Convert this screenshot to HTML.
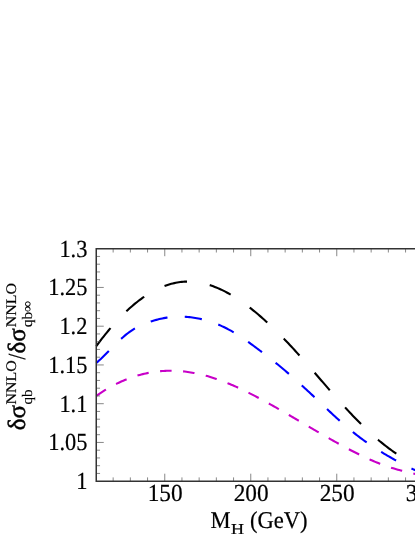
<!DOCTYPE html>
<html><head><meta charset="utf-8"><title>plot</title>
<style>
html,body{margin:0;padding:0;background:#fff;}
body{width:415px;height:537px;overflow:hidden;position:relative;}
svg{position:absolute;left:0;top:0;display:block;will-change:transform;}
text{font-family:"Liberation Serif",serif;fill:#000;stroke:#000;stroke-width:0.2px;text-rendering:geometricPrecision;}
</style></head><body>
<svg width="415" height="537" viewBox="0 0 415 537">
<rect width="415" height="537" fill="#fff"/>
<g fill="none" stroke-width="2.1" stroke-linecap="butt">
<path stroke="#000" stroke-dasharray="23.05 23.05" d="M96.30,346.18 L97.80,344.14 L99.30,342.13 L100.80,340.15 L102.30,338.20 L103.80,336.29 L105.30,334.40 L106.80,332.55 L108.30,330.73 L109.80,328.94 L111.30,327.18 L112.80,325.45 L114.30,323.76 L115.80,322.09 L117.30,320.46 L118.80,318.86 L120.30,317.30 L121.80,315.76 L123.30,314.26 L124.80,312.79 L126.30,311.35 L127.80,309.95 L129.30,308.58 L130.80,307.24 L132.30,305.93 L133.80,304.66 L135.30,303.42 L136.80,302.22 L138.30,301.04 L139.80,299.90 L141.30,298.80 L142.80,297.72 L144.30,296.69 L145.80,295.68 L147.30,294.71 L148.80,293.77 L150.30,292.87 L151.80,292.00 L153.30,291.16 L154.80,290.36 L156.30,289.60 L157.80,288.86 L159.30,288.17 L160.80,287.50 L162.30,286.87 L163.80,286.28 L165.30,285.72 L166.80,285.20 L168.30,284.71 L169.80,284.26 L171.30,283.84 L172.80,283.45 L174.30,283.11 L175.80,282.79 L177.30,282.52 L178.80,282.28 L180.30,282.07 L181.80,281.90 L183.30,281.77 L184.80,281.67 L186.30,281.61 L187.80,281.58 L189.30,281.60 L190.80,281.64 L192.30,281.72 L193.80,281.84 L195.30,281.99 L196.80,282.17 L198.30,282.39 L199.80,282.64 L201.30,282.93 L202.80,283.25 L204.30,283.60 L205.80,283.98 L207.30,284.39 L208.80,284.84 L210.30,285.31 L211.80,285.82 L213.30,286.35 L214.80,286.92 L216.30,287.51 L217.80,288.13 L219.30,288.79 L220.80,289.47 L222.30,290.17 L223.80,290.91 L225.30,291.67 L226.80,292.46 L228.30,293.28 L229.80,294.12 L231.30,294.99 L232.80,295.88 L234.30,296.80 L235.80,297.74 L237.30,298.71 L238.80,299.70 L240.30,300.71 L241.80,301.75 L243.30,302.81 L244.80,303.89 L246.30,304.99 L247.80,306.12 L249.30,307.27 L250.80,308.43 L252.30,309.62 L253.80,310.83 L255.30,312.06 L256.80,313.31 L258.30,314.57 L259.80,315.86 L261.30,317.16 L262.80,318.48 L264.30,319.81 L265.80,321.17 L267.30,322.54 L268.80,323.92 L270.30,325.32 L271.80,326.74 L273.30,328.17 L274.80,329.61 L276.30,331.08 L277.80,332.55 L279.30,334.05 L280.80,335.56 L282.30,337.08 L283.80,338.62 L285.30,340.17 L286.80,341.74 L288.30,343.33 L289.80,344.93 L291.30,346.54 L292.80,348.16 L294.30,349.79 L295.80,351.44 L297.30,353.10 L298.80,354.76 L300.30,356.43 L301.80,358.12 L303.30,359.81 L304.80,361.50 L306.30,363.21 L307.80,364.92 L309.30,366.63 L310.80,368.35 L312.30,370.07 L313.80,371.80 L315.30,373.53 L316.80,375.26 L318.30,376.99 L319.80,378.72 L321.30,380.45 L322.80,382.18 L324.30,383.91 L325.80,385.64 L327.30,387.37 L328.80,389.09 L330.30,390.81 L331.80,392.52 L333.30,394.23 L334.80,395.93 L336.30,397.63 L337.80,399.31 L339.30,401.00 L340.80,402.67 L342.30,404.33 L343.80,405.98 L345.30,407.63 L346.80,409.26 L348.30,410.88 L349.80,412.49 L351.30,414.08 L352.80,415.66 L354.30,417.23 L355.80,418.78 L357.30,420.31 L358.80,421.83 L360.30,423.34 L361.80,424.82 L363.30,426.29 L364.80,427.74 L366.30,429.17 L367.80,430.58 L369.30,431.98 L370.80,433.35 L372.30,434.71 L373.80,436.04 L375.30,437.36 L376.80,438.66 L378.30,439.93 L379.80,441.19 L381.30,442.43 L382.80,443.64 L384.30,444.83 L385.80,446.01 L387.30,447.16 L388.80,448.29 L390.30,449.40 L391.80,450.49 L393.30,451.55 L394.80,452.59 L396.30,453.61 L397.80,454.61 L399.30,455.58 L400.80,456.54 L402.30,457.47 L403.80,458.38 L405.30,459.27 L406.80,460.14 L408.30,460.99 L409.80,461.82 L411.30,462.64 L412.80,463.43 L414.30,464.21 L415.80,464.97 L417.30,465.72 L418.80,466.45 L420.30,467.16 L421.80,467.86 L423.30,468.54 L424.80,469.21 L426.30,469.86 L427.80,470.51 L429.30,471.14"/>
<path stroke="#0000ff" stroke-dasharray="17.29 17.29" d="M96.30,362.91 L97.80,361.65 L99.30,360.32 L100.80,358.95 L102.30,357.54 L103.80,356.09 L105.30,354.60 L106.80,353.10 L108.30,351.58 L109.80,350.04 L111.30,348.51 L112.80,346.98 L114.30,345.46 L115.80,343.95 L117.30,342.47 L118.80,341.02 L120.30,339.61 L121.80,338.24 L123.30,336.92 L124.80,335.64 L126.30,334.42 L127.80,333.25 L129.30,332.13 L130.80,331.07 L132.30,330.06 L133.80,329.11 L135.30,328.21 L136.80,327.37 L138.30,326.58 L139.80,325.84 L141.30,325.14 L142.80,324.48 L144.30,323.86 L145.80,323.27 L147.30,322.71 L148.80,322.18 L150.30,321.68 L151.80,321.19 L153.30,320.73 L154.80,320.29 L156.30,319.87 L157.80,319.47 L159.30,319.10 L160.80,318.75 L162.30,318.42 L163.80,318.13 L165.30,317.86 L166.80,317.61 L168.30,317.40 L169.80,317.21 L171.30,317.05 L172.80,316.92 L174.30,316.81 L175.80,316.73 L177.30,316.67 L178.80,316.64 L180.30,316.64 L181.80,316.66 L183.30,316.70 L184.80,316.77 L186.30,316.87 L187.80,316.98 L189.30,317.12 L190.80,317.28 L192.30,317.47 L193.80,317.68 L195.30,317.92 L196.80,318.18 L198.30,318.46 L199.80,318.77 L201.30,319.10 L202.80,319.46 L204.30,319.84 L205.80,320.24 L207.30,320.67 L208.80,321.13 L210.30,321.60 L211.80,322.11 L213.30,322.64 L214.80,323.19 L216.30,323.77 L217.80,324.37 L219.30,325.00 L220.80,325.66 L222.30,326.34 L223.80,327.04 L225.30,327.77 L226.80,328.53 L228.30,329.31 L229.80,330.12 L231.30,330.95 L232.80,331.81 L234.30,332.69 L235.80,333.60 L237.30,334.53 L238.80,335.49 L240.30,336.47 L241.80,337.46 L243.30,338.48 L244.80,339.51 L246.30,340.56 L247.80,341.62 L249.30,342.70 L250.80,343.79 L252.30,344.89 L253.80,346.00 L255.30,347.12 L256.80,348.24 L258.30,349.37 L259.80,350.51 L261.30,351.65 L262.80,352.79 L264.30,353.93 L265.80,355.08 L267.30,356.23 L268.80,357.39 L270.30,358.55 L271.80,359.73 L273.30,360.91 L274.80,362.10 L276.30,363.31 L277.80,364.53 L279.30,365.76 L280.80,367.00 L282.30,368.25 L283.80,369.52 L285.30,370.79 L286.80,372.08 L288.30,373.37 L289.80,374.68 L291.30,375.99 L292.80,377.31 L294.30,378.64 L295.80,379.98 L297.30,381.33 L298.80,382.68 L300.30,384.04 L301.80,385.41 L303.30,386.78 L304.80,388.16 L306.30,389.55 L307.80,390.94 L309.30,392.34 L310.80,393.74 L312.30,395.14 L313.80,396.55 L315.30,397.97 L316.80,399.38 L318.30,400.80 L319.80,402.22 L321.30,403.64 L322.80,405.06 L324.30,406.48 L325.80,407.90 L327.30,409.31 L328.80,410.72 L330.30,412.12 L331.80,413.52 L333.30,414.91 L334.80,416.29 L336.30,417.66 L337.80,419.03 L339.30,420.38 L340.80,421.73 L342.30,423.06 L343.80,424.38 L345.30,425.68 L346.80,426.97 L348.30,428.24 L349.80,429.50 L351.30,430.74 L352.80,431.96 L354.30,433.17 L355.80,434.35 L357.30,435.51 L358.80,436.66 L360.30,437.79 L361.80,438.90 L363.30,440.00 L364.80,441.07 L366.30,442.14 L367.80,443.18 L369.30,444.21 L370.80,445.23 L372.30,446.23 L373.80,447.22 L375.30,448.19 L376.80,449.15 L378.30,450.10 L379.80,451.04 L381.30,451.96 L382.80,452.87 L384.30,453.78 L385.80,454.67 L387.30,455.55 L388.80,456.42 L390.30,457.28 L391.80,458.13 L393.30,458.98 L394.80,459.81 L396.30,460.64 L397.80,461.46 L399.30,462.27 L400.80,463.08 L402.30,463.87 L403.80,464.65 L405.30,465.42 L406.80,466.18 L408.30,466.93 L409.80,467.66 L411.30,468.38 L412.80,469.09 L414.30,469.79 L415.80,470.46 L417.30,471.13 L418.80,471.77 L420.30,472.40 L421.80,473.01 L423.30,473.61 L424.80,474.18 L426.30,474.74 L427.80,475.27 L429.30,475.79"/>
<path stroke="#c800c8" stroke-dasharray="11.525 11.525" d="M96.30,395.82 L97.80,394.79 L99.30,393.78 L100.80,392.79 L102.30,391.82 L103.80,390.88 L105.30,389.96 L106.80,389.06 L108.30,388.19 L109.80,387.33 L111.30,386.50 L112.80,385.70 L114.30,384.91 L115.80,384.15 L117.30,383.41 L118.80,382.69 L120.30,381.99 L121.80,381.32 L123.30,380.67 L124.80,380.04 L126.30,379.43 L127.80,378.84 L129.30,378.27 L130.80,377.73 L132.30,377.20 L133.80,376.70 L135.30,376.22 L136.80,375.76 L138.30,375.32 L139.80,374.90 L141.30,374.50 L142.80,374.12 L144.30,373.76 L145.80,373.43 L147.30,373.11 L148.80,372.81 L150.30,372.54 L151.80,372.28 L153.30,372.05 L154.80,371.83 L156.30,371.64 L157.80,371.46 L159.30,371.30 L160.80,371.17 L162.30,371.05 L163.80,370.95 L165.30,370.87 L166.80,370.82 L168.30,370.78 L169.80,370.75 L171.30,370.75 L172.80,370.77 L174.30,370.81 L175.80,370.86 L177.30,370.93 L178.80,371.03 L180.30,371.14 L181.80,371.27 L183.30,371.41 L184.80,371.58 L186.30,371.76 L187.80,371.96 L189.30,372.18 L190.80,372.42 L192.30,372.67 L193.80,372.94 L195.30,373.23 L196.80,373.54 L198.30,373.86 L199.80,374.19 L201.30,374.55 L202.80,374.92 L204.30,375.30 L205.80,375.70 L207.30,376.11 L208.80,376.54 L210.30,376.99 L211.80,377.45 L213.30,377.92 L214.80,378.41 L216.30,378.91 L217.80,379.43 L219.30,379.96 L220.80,380.50 L222.30,381.06 L223.80,381.63 L225.30,382.21 L226.80,382.81 L228.30,383.42 L229.80,384.04 L231.30,384.67 L232.80,385.31 L234.30,385.97 L235.80,386.63 L237.30,387.31 L238.80,388.00 L240.30,388.69 L241.80,389.40 L243.30,390.12 L244.80,390.84 L246.30,391.58 L247.80,392.32 L249.30,393.07 L250.80,393.83 L252.30,394.60 L253.80,395.38 L255.30,396.16 L256.80,396.95 L258.30,397.74 L259.80,398.54 L261.30,399.35 L262.80,400.16 L264.30,400.98 L265.80,401.81 L267.30,402.64 L268.80,403.47 L270.30,404.31 L271.80,405.15 L273.30,405.99 L274.80,406.84 L276.30,407.69 L277.80,408.55 L279.30,409.41 L280.80,410.27 L282.30,411.13 L283.80,412.00 L285.30,412.87 L286.80,413.74 L288.30,414.61 L289.80,415.49 L291.30,416.36 L292.80,417.24 L294.30,418.12 L295.80,419.00 L297.30,419.88 L298.80,420.76 L300.30,421.64 L301.80,422.52 L303.30,423.41 L304.80,424.29 L306.30,425.17 L307.80,426.05 L309.30,426.93 L310.80,427.81 L312.30,428.69 L313.80,429.56 L315.30,430.44 L316.80,431.31 L318.30,432.18 L319.80,433.05 L321.30,433.92 L322.80,434.78 L324.30,435.64 L325.80,436.50 L327.30,437.36 L328.80,438.21 L330.30,439.06 L331.80,439.91 L333.30,440.75 L334.80,441.59 L336.30,442.42 L337.80,443.25 L339.30,444.08 L340.80,444.90 L342.30,445.71 L343.80,446.52 L345.30,447.33 L346.80,448.13 L348.30,448.92 L349.80,449.71 L351.30,450.49 L352.80,451.27 L354.30,452.03 L355.80,452.80 L357.30,453.55 L358.80,454.29 L360.30,455.03 L361.80,455.76 L363.30,456.48 L364.80,457.19 L366.30,457.89 L367.80,458.58 L369.30,459.25 L370.80,459.92 L372.30,460.58 L373.80,461.22 L375.30,461.85 L376.80,462.47 L378.30,463.08 L379.80,463.67 L381.30,464.25 L382.80,464.82 L384.30,465.37 L385.80,465.91 L387.30,466.43 L388.80,466.93 L390.30,467.42 L391.80,467.90 L393.30,468.36 L394.80,468.80 L396.30,469.23 L397.80,469.65 L399.30,470.05 L400.80,470.45 L402.30,470.83 L403.80,471.21 L405.30,471.59 L406.80,471.95 L408.30,472.32 L409.80,472.68 L411.30,473.04 L412.80,473.41 L414.30,473.77 L415.80,474.14 L417.30,474.51 L418.80,474.89 L420.30,475.27 L421.80,475.66 L423.30,476.07 L424.80,476.48 L426.30,476.90 L427.80,477.34 L429.30,477.79"/>
</g>
<g stroke="#555" stroke-width="0.7">
<line x1="113.15" y1="481.2" x2="113.15" y2="477.4"/><line x1="113.15" y1="248.7" x2="113.15" y2="252.5"/><line x1="130.35" y1="481.2" x2="130.35" y2="477.4"/><line x1="130.35" y1="248.7" x2="130.35" y2="252.5"/><line x1="147.55" y1="481.2" x2="147.55" y2="477.4"/><line x1="147.55" y1="248.7" x2="147.55" y2="252.5"/><line x1="164.75" y1="481.2" x2="164.75" y2="473.7"/><line x1="164.75" y1="248.7" x2="164.75" y2="256.2"/><line x1="181.95" y1="481.2" x2="181.95" y2="477.4"/><line x1="181.95" y1="248.7" x2="181.95" y2="252.5"/><line x1="199.15" y1="481.2" x2="199.15" y2="477.4"/><line x1="199.15" y1="248.7" x2="199.15" y2="252.5"/><line x1="216.35" y1="481.2" x2="216.35" y2="477.4"/><line x1="216.35" y1="248.7" x2="216.35" y2="252.5"/><line x1="233.55" y1="481.2" x2="233.55" y2="477.4"/><line x1="233.55" y1="248.7" x2="233.55" y2="252.5"/><line x1="250.75" y1="481.2" x2="250.75" y2="473.7"/><line x1="250.75" y1="248.7" x2="250.75" y2="256.2"/><line x1="267.95" y1="481.2" x2="267.95" y2="477.4"/><line x1="267.95" y1="248.7" x2="267.95" y2="252.5"/><line x1="285.15" y1="481.2" x2="285.15" y2="477.4"/><line x1="285.15" y1="248.7" x2="285.15" y2="252.5"/><line x1="302.35" y1="481.2" x2="302.35" y2="477.4"/><line x1="302.35" y1="248.7" x2="302.35" y2="252.5"/><line x1="319.55" y1="481.2" x2="319.55" y2="477.4"/><line x1="319.55" y1="248.7" x2="319.55" y2="252.5"/><line x1="336.75" y1="481.2" x2="336.75" y2="473.7"/><line x1="336.75" y1="248.7" x2="336.75" y2="256.2"/><line x1="353.95" y1="481.2" x2="353.95" y2="477.4"/><line x1="353.95" y1="248.7" x2="353.95" y2="252.5"/><line x1="371.15" y1="481.2" x2="371.15" y2="477.4"/><line x1="371.15" y1="248.7" x2="371.15" y2="252.5"/><line x1="388.35" y1="481.2" x2="388.35" y2="477.4"/><line x1="388.35" y1="248.7" x2="388.35" y2="252.5"/><line x1="405.55" y1="481.2" x2="405.55" y2="477.4"/><line x1="405.55" y1="248.7" x2="405.55" y2="252.5"/><line x1="96.25" y1="473.45" x2="100.05" y2="473.45"/><line x1="96.25" y1="465.70" x2="100.05" y2="465.70"/><line x1="96.25" y1="457.95" x2="100.05" y2="457.95"/><line x1="96.25" y1="450.20" x2="100.05" y2="450.20"/><line x1="96.25" y1="442.45" x2="103.75" y2="442.45"/><line x1="96.25" y1="434.70" x2="100.05" y2="434.70"/><line x1="96.25" y1="426.95" x2="100.05" y2="426.95"/><line x1="96.25" y1="419.20" x2="100.05" y2="419.20"/><line x1="96.25" y1="411.45" x2="100.05" y2="411.45"/><line x1="96.25" y1="403.70" x2="103.75" y2="403.70"/><line x1="96.25" y1="395.95" x2="100.05" y2="395.95"/><line x1="96.25" y1="388.20" x2="100.05" y2="388.20"/><line x1="96.25" y1="380.45" x2="100.05" y2="380.45"/><line x1="96.25" y1="372.70" x2="100.05" y2="372.70"/><line x1="96.25" y1="364.95" x2="103.75" y2="364.95"/><line x1="96.25" y1="357.20" x2="100.05" y2="357.20"/><line x1="96.25" y1="349.45" x2="100.05" y2="349.45"/><line x1="96.25" y1="341.70" x2="100.05" y2="341.70"/><line x1="96.25" y1="333.95" x2="100.05" y2="333.95"/><line x1="96.25" y1="326.20" x2="103.75" y2="326.20"/><line x1="96.25" y1="318.45" x2="100.05" y2="318.45"/><line x1="96.25" y1="310.70" x2="100.05" y2="310.70"/><line x1="96.25" y1="302.95" x2="100.05" y2="302.95"/><line x1="96.25" y1="295.20" x2="100.05" y2="295.20"/><line x1="96.25" y1="287.45" x2="103.75" y2="287.45"/><line x1="96.25" y1="279.70" x2="100.05" y2="279.70"/><line x1="96.25" y1="271.95" x2="100.05" y2="271.95"/><line x1="96.25" y1="264.20" x2="100.05" y2="264.20"/><line x1="96.25" y1="256.45" x2="100.05" y2="256.45"/>
</g>
<path d="M420,248.7 L96.25,248.7 L96.25,481.2 L420,481.2" fill="none" stroke="#333" stroke-width="1.5" stroke-linejoin="miter"/>
<g font-size="23px">
<text transform="translate(87.40,256.60) scale(0.9143,1)" font-size="24.5px" text-anchor="end">1.3</text>
<text transform="translate(87.40,295.35) scale(0.9143,1)" font-size="24.5px" text-anchor="end">1.25</text>
<text transform="translate(87.40,334.10) scale(0.9143,1)" font-size="24.5px" text-anchor="end">1.2</text>
<text transform="translate(87.40,372.85) scale(0.9143,1)" font-size="24.5px" text-anchor="end">1.15</text>
<text transform="translate(87.40,411.60) scale(0.9143,1)" font-size="24.5px" text-anchor="end">1.1</text>
<text transform="translate(87.40,450.35) scale(0.9143,1)" font-size="24.5px" text-anchor="end">1.05</text>
<text transform="translate(87.40,489.10) scale(0.9143,1)" font-size="24.5px" text-anchor="end">1</text>
<text transform="translate(165.15,500.60) scale(0.9510,1)" font-size="24.5px" text-anchor="middle">150</text>
<text transform="translate(251.15,500.60) scale(0.9510,1)" font-size="24.5px" text-anchor="middle">200</text>
<text transform="translate(337.15,500.60) scale(0.9510,1)" font-size="24.5px" text-anchor="middle">250</text>
<text transform="translate(423.15,500.60) scale(0.9510,1)" font-size="24.5px" text-anchor="middle">300</text>
<text transform="translate(210.60,528.00) scale(0.9417,1)" font-size="24.0px" text-anchor="start">M</text>
<text transform="translate(231.00,534.30) scale(1.1842,1)" font-size="15.2px" text-anchor="start">H</text>
<text transform="translate(249.90,528.00) scale(0.9417,1)" font-size="24.0px" text-anchor="start">(GeV)</text>

</g>
<text transform="translate(25.30,430.30) rotate(-90) scale(1.0081,1)" font-size="24.8px" style="stroke-width:0.5px">δσ</text>
<text transform="translate(15.70,404.50) rotate(-90) scale(1.0816,1)" font-size="14.7px" style="stroke-width:0.2px">NNLO</text>
<text transform="translate(31.60,404.60) rotate(-90) scale(1.0342,1)" font-size="14.6px" style="stroke-width:0.1px">qb</text>
<text transform="translate(25.30,359.55) rotate(-90) scale(0.8571,1)" font-size="24.5px" style="stroke-width:0.3px">/</text>
<text transform="translate(25.30,353.50) rotate(-90) scale(1.0081,1)" font-size="24.8px" style="stroke-width:0.5px">δσ</text>
<text transform="translate(15.70,327.20) rotate(-90) scale(1.0816,1)" font-size="14.7px" style="stroke-width:0.2px">NNLO</text>
<text transform="translate(31.60,327.30) rotate(-90) scale(1.0548,1)" font-size="14.6px" style="stroke-width:0.1px">qb∞</text>

</svg>
</body></html>
